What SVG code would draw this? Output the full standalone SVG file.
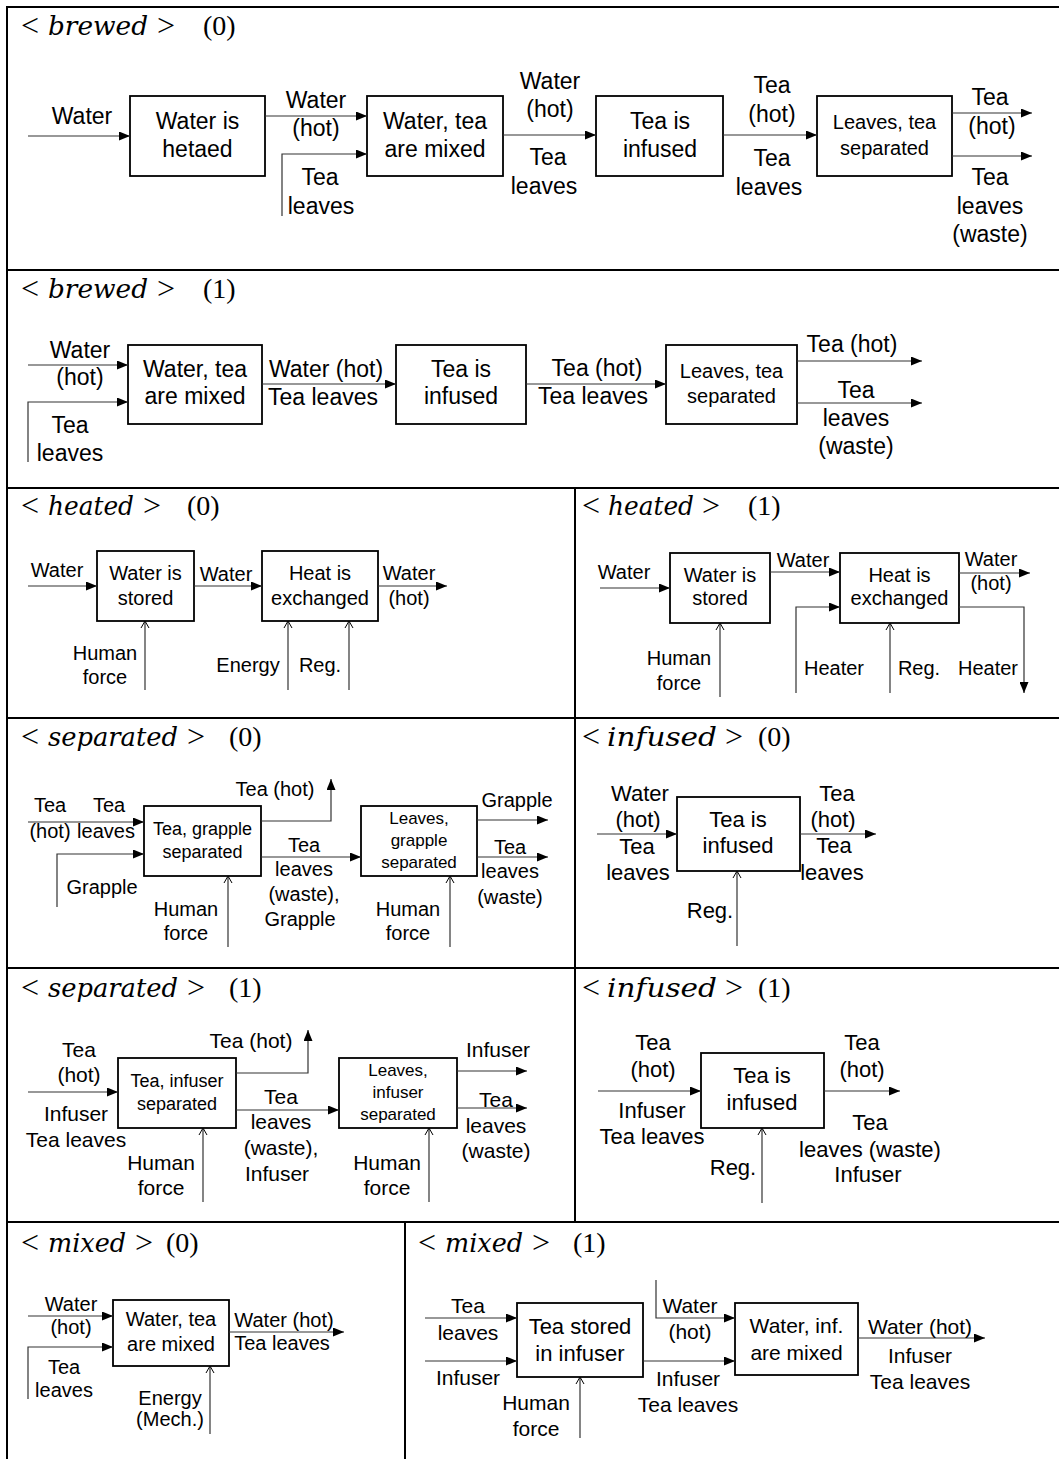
<svg xmlns="http://www.w3.org/2000/svg" width="1059" height="1459" viewBox="0 0 1059 1459">
<style>
text{font-family:"Liberation Sans",Arial,sans-serif;text-anchor:middle;fill:#000}
.s23{font-size:23px}.s22{font-size:22px}.s21{font-size:21px}.s20{font-size:20px}.s18{font-size:18px}.s17{font-size:17px}
.box{fill:#fff;stroke:#000;stroke-width:1.8}
.ln{fill:none;stroke:#333;stroke-width:1.2}
.ar{marker-end:url(#ah)}
.oc{marker-end:url(#oh)}
.grid{stroke:#000;stroke-width:2;fill:none}
text.t{font-family:"Liberation Serif","Times New Roman",serif;font-size:28px;text-anchor:start}
text.op{font-family:"Liberation Serif","Times New Roman",serif;font-size:32px;text-anchor:start}
text.ti{font-family:"DejaVu Serif","Liberation Serif",serif;font-style:italic;font-size:26px;text-anchor:start}
</style>
<defs>
<marker id="ah" viewBox="0 0 11 9" refX="11" refY="4.5" markerWidth="11" markerHeight="9" orient="auto" markerUnits="userSpaceOnUse"><path d="M0,0 L11,4.5 L0,9 z" fill="#000"/></marker>
<marker id="oh" viewBox="-1 -5 9 10" refX="7" refY="0" markerWidth="9" markerHeight="10" orient="auto" markerUnits="userSpaceOnUse"><path d="M0,-4 L7,0 L0,4" fill="none" stroke="#000" stroke-width="1"/></marker>
</defs>
<rect width="1059" height="1459" fill="#fff"/>
<g id="grid" class="grid">
<path d="M6,7 H1059 M7,7 V1459 M7,270 H1059 M7,488 H1059 M7,718 H1059 M7,968 H1059 M7,1222 H1059 M575,488 V1222 M405,1222 V1459"/>
</g>

<!-- brewed (0) -->
<g id="brewed0">
<g id="brewed0-title"><text class="op" x="21" y="36">&lt;</text><text class="ti" x="48" y="35" textLength="100" lengthAdjust="spacingAndGlyphs">brewed</text><text class="op" x="157" y="36">&gt;</text><text class="t" x="203" y="35">(0)</text></g>
<g id="b0-heated"><rect class="box" x="130" y="96" width="135" height="80"/><text class="s23" x="197.5" y="129">Water is</text><text class="s23" x="197.5" y="157">hetaed</text></g>
<g id="b0-mixed"><rect class="box" x="367" y="96" width="136" height="80"/><text class="s23" x="435" y="129">Water, tea</text><text class="s23" x="435" y="157">are mixed</text></g>
<g id="b0-infused"><rect class="box" x="596" y="96" width="127" height="80"/><text class="s23" x="660" y="129">Tea is</text><text class="s23" x="660" y="157">infused</text></g>
<g id="b0-separated"><rect class="box" x="817" y="96" width="135" height="80"/><text class="s20" x="884.5" y="129">Leaves, tea</text><text class="s20" x="884.5" y="155">separated</text></g>
<g id="b0-edges">
<path class="ln ar" d="M28,136 H130"/>
<path class="ln ar" d="M265,116 H367"/>
<path class="ln ar" d="M282,216 V154 H367"/>
<path class="ln ar" d="M503,135 H596"/>
<path class="ln ar" d="M723,135 H817"/>
<path class="ln ar" d="M952,113 H1032"/>
<path class="ln ar" d="M952,156 H1032"/>
<text class="s23" x="82" y="124">Water</text>
<text class="s23" x="316" y="108">Water</text><text class="s23" x="316" y="136">(hot)</text>
<text class="s23" x="320" y="185">Tea</text><text class="s23" x="321" y="214">leaves</text>
<text class="s23" x="550" y="89">Water</text><text class="s23" x="550" y="117">(hot)</text>
<text class="s23" x="548" y="165">Tea</text><text class="s23" x="544" y="194">leaves</text>
<text class="s23" x="772" y="93">Tea</text><text class="s23" x="772" y="122">(hot)</text>
<text class="s23" x="772" y="166">Tea</text><text class="s23" x="769" y="195">leaves</text>
<text class="s23" x="990" y="105">Tea</text><text class="s23" x="992" y="134">(hot)</text>
<text class="s23" x="990" y="185">Tea</text><text class="s23" x="990" y="214">leaves</text><text class="s23" x="990" y="242">(waste)</text>
</g>
</g>

<!-- brewed (1) -->
<g id="brewed1">
<g id="brewed1-title"><text class="op" x="21" y="299">&lt;</text><text class="ti" x="48" y="298" textLength="100" lengthAdjust="spacingAndGlyphs">brewed</text><text class="op" x="157" y="299">&gt;</text><text class="t" x="203" y="298">(1)</text></g>
<g id="b1-mixed"><rect class="box" x="128" y="345" width="134" height="79"/><text class="s23" x="195" y="377">Water, tea</text><text class="s23" x="195" y="404">are mixed</text></g>
<g id="b1-infused"><rect class="box" x="396" y="345" width="130" height="79"/><text class="s23" x="461" y="377">Tea is</text><text class="s23" x="461" y="404">infused</text></g>
<g id="b1-separated"><rect class="box" x="666" y="345" width="131" height="79"/><text class="s20" x="731.5" y="378">Leaves, tea</text><text class="s20" x="731.5" y="403">separated</text></g>
<g id="b1-edges">
<path class="ln ar" d="M28,365 H128"/>
<path class="ln ar" d="M28,462 V402 H128"/>
<path class="ln ar" d="M262,384 H396"/>
<path class="ln ar" d="M526,384 H666"/>
<path class="ln ar" d="M797,361 H922"/>
<path class="ln ar" d="M797,403 H922"/>
<text class="s23" x="80" y="358">Water</text><text class="s23" x="80" y="385">(hot)</text>
<text class="s23" x="70" y="433">Tea</text><text class="s23" x="70" y="461">leaves</text>
<text class="s23" x="326" y="377">Water (hot)</text><text class="s23" x="323" y="405">Tea leaves</text>
<text class="s23" x="597" y="376">Tea (hot)</text><text class="s23" x="593" y="404">Tea leaves</text>
<text class="s23" x="852" y="352">Tea (hot)</text>
<text class="s23" x="856" y="398">Tea</text><text class="s23" x="856" y="426">leaves</text><text class="s23" x="856" y="454">(waste)</text>
</g>
</g>

<!-- heated (0) -->
<g id="heated0">
<g id="heated0-title"><text class="op" x="21" y="516">&lt;</text><text class="ti" x="48" y="515" textLength="86" lengthAdjust="spacingAndGlyphs">heated</text><text class="op" x="143" y="516">&gt;</text><text class="t" x="187" y="515">(0)</text></g>
<g id="h0-stored"><rect class="box" x="97" y="551" width="97" height="70"/><text class="s20" x="145.5" y="580">Water is</text><text class="s20" x="145.5" y="605">stored</text></g>
<g id="h0-exchanged"><rect class="box" x="262" y="551" width="116" height="70"/><text class="s20" x="320" y="580">Heat is</text><text class="s20" x="320" y="605">exchanged</text></g>
<g id="h0-edges">
<path class="ln ar" d="M28,586 H97"/>
<path class="ln ar" d="M194,586 H262"/>
<path class="ln ar" d="M378,586 H447"/>
<path class="ln oc" d="M145,690 V621"/>
<path class="ln oc" d="M288,690 V621"/>
<path class="ln oc" d="M349,690 V621"/>
<text class="s20" x="57" y="577">Water</text>
<text class="s20" x="226" y="581">Water</text>
<text class="s20" x="409" y="580">Water</text><text class="s20" x="409" y="605">(hot)</text>
<text class="s20" x="105" y="660">Human</text><text class="s20" x="105" y="684">force</text>
<text class="s20" x="248" y="672">Energy</text>
<text class="s20" x="320" y="672">Reg.</text>
</g>
</g>

<!-- heated (1) -->
<g id="heated1">
<g id="heated1-title"><text class="op" x="582" y="516">&lt;</text><text class="ti" x="608" y="515" textLength="86" lengthAdjust="spacingAndGlyphs">heated</text><text class="op" x="702" y="516">&gt;</text><text class="t" x="748" y="515">(1)</text></g>
<g id="h1-stored"><rect class="box" x="670" y="553" width="100" height="70"/><text class="s20" x="720" y="582">Water is</text><text class="s20" x="720" y="605">stored</text></g>
<g id="h1-exchanged"><rect class="box" x="840" y="553" width="119" height="70"/><text class="s20" x="899.5" y="582">Heat is</text><text class="s20" x="899.5" y="605">exchanged</text></g>
<g id="h1-edges">
<path class="ln ar" d="M600,588 H670"/>
<path class="ln ar" d="M770,572 H840"/>
<path class="ln ar" d="M796,693 V607 H840"/>
<path class="ln ar" d="M959,573 H1030"/>
<path class="ln ar" d="M959,607 H1024 V693"/>
<path class="ln oc" d="M720,697 V623"/>
<path class="ln oc" d="M890,693 V623"/>
<text class="s20" x="624" y="579">Water</text>
<text class="s20" x="803" y="567">Water</text>
<text class="s20" x="991" y="566">Water</text><text class="s20" x="991" y="590">(hot)</text>
<text class="s20" x="834" y="675">Heater</text>
<text class="s20" x="919" y="675">Reg.</text>
<text class="s20" x="988" y="675">Heater</text>
<text class="s20" x="679" y="665">Human</text><text class="s20" x="679" y="690">force</text>
</g>
</g>

<!-- separated (0) -->
<g id="separated0">
<g id="separated0-title"><text class="op" x="21" y="747">&lt;</text><text class="ti" x="48" y="746" textLength="130" lengthAdjust="spacingAndGlyphs">separated</text><text class="op" x="187" y="747">&gt;</text><text class="t" x="229" y="746">(0)</text></g>
<g id="s0-tea"><rect class="box" x="144" y="806" width="117" height="70"/><text class="s18" x="202.5" y="835">Tea, grapple</text><text class="s18" x="202.5" y="858">separated</text></g>
<g id="s0-leaves"><rect class="box" x="361" y="806" width="116" height="70"/><text class="s17" x="419" y="824">Leaves,</text><text class="s17" x="419" y="846">grapple</text><text class="s17" x="419" y="868">separated</text></g>
<g id="s0-edges">
<path class="ln ar" d="M28,822 H144"/>
<path class="ln ar" d="M57,907 V854 H144"/>
<path class="ln ar" d="M261,821 H331 V779"/>
<path class="ln ar" d="M261,857 H361"/>
<path class="ln ar" d="M477,820 H548"/>
<path class="ln ar" d="M477,857 H548"/>
<path class="ln oc" d="M228,947 V876"/>
<path class="ln oc" d="M450,947 V876"/>
<text class="s20" x="50" y="812">Tea</text><text class="s20" x="109" y="812">Tea</text>
<text class="s20" x="50" y="838">(hot)</text><text class="s20" x="106" y="838">leaves</text>
<text class="s20" x="102" y="894">Grapple</text>
<text class="s20" x="275" y="796">Tea (hot)</text>
<text class="s20" x="304" y="852">Tea</text><text class="s20" x="304" y="876">leaves</text><text class="s20" x="304" y="901">(waste),</text><text class="s20" x="300" y="926">Grapple</text>
<text class="s20" x="517" y="807">Grapple</text>
<text class="s20" x="510" y="854">Tea</text><text class="s20" x="510" y="878">leaves</text><text class="s20" x="510" y="904">(waste)</text>
<text class="s20" x="186" y="916">Human</text><text class="s20" x="186" y="940">force</text>
<text class="s20" x="408" y="916">Human</text><text class="s20" x="408" y="940">force</text>
</g>
</g>

<!-- infused (0) -->
<g id="infused0">
<g id="infused0-title"><text class="op" x="582" y="747">&lt;</text><text class="ti" x="607" y="746" textLength="110" lengthAdjust="spacingAndGlyphs">infused</text><text class="op" x="725" y="747">&gt;</text><text class="t" x="758" y="746">(0)</text></g>
<g id="i0-infused"><rect class="box" x="677" y="797" width="123" height="74"/><text class="s22" x="738" y="827">Tea is</text><text class="s22" x="738" y="853">infused</text></g>
<g id="i0-edges">
<path class="ln ar" d="M597,834 H677"/>
<path class="ln ar" d="M800,834 H876"/>
<path class="ln oc" d="M737,946 V871"/>
<text class="s22" x="640" y="801">Water</text><text class="s22" x="638" y="827">(hot)</text>
<text class="s22" x="637" y="854">Tea</text><text class="s22" x="638" y="880">leaves</text>
<text class="s22" x="837" y="801">Tea</text><text class="s22" x="833" y="827">(hot)</text>
<text class="s22" x="834" y="853">Tea</text><text class="s22" x="832" y="880">leaves</text>
<text class="s22" x="710" y="918">Reg.</text>
</g>
</g>

<!-- separated (1) -->
<g id="separated1">
<g id="separated1-title"><text class="op" x="21" y="998">&lt;</text><text class="ti" x="48" y="997" textLength="130" lengthAdjust="spacingAndGlyphs">separated</text><text class="op" x="187" y="998">&gt;</text><text class="t" x="229" y="997">(1)</text></g>
<g id="s1-tea"><rect class="box" x="118" y="1058" width="118" height="70"/><text class="s18" x="177" y="1087">Tea, infuser</text><text class="s18" x="177" y="1110">separated</text></g>
<g id="s1-leaves"><rect class="box" x="339" y="1058" width="118" height="70"/><text class="s17" x="398" y="1076">Leaves,</text><text class="s17" x="398" y="1098">infuser</text><text class="s17" x="398" y="1120">separated</text></g>
<g id="s1-edges">
<path class="ln ar" d="M28,1092 H118"/>
<path class="ln ar" d="M236,1073 H308 V1030"/>
<path class="ln ar" d="M236,1110 H339"/>
<path class="ln ar" d="M457,1071 H527"/>
<path class="ln ar" d="M457,1108 H527"/>
<path class="ln oc" d="M203,1202 V1128"/>
<path class="ln oc" d="M429,1202 V1128"/>
<text class="s21" x="79" y="1057">Tea</text><text class="s21" x="79" y="1082">(hot)</text>
<text class="s21" x="76" y="1121">Infuser</text><text class="s21" x="76" y="1147">Tea leaves</text>
<text class="s21" x="251" y="1048">Tea (hot)</text>
<text class="s21" x="281" y="1104">Tea</text><text class="s21" x="281" y="1129">leaves</text><text class="s21" x="281" y="1155">(waste),</text><text class="s21" x="277" y="1181">Infuser</text>
<text class="s21" x="498" y="1057">Infuser</text>
<text class="s21" x="496" y="1107">Tea</text><text class="s21" x="496" y="1133">leaves</text><text class="s21" x="496" y="1158">(waste)</text>
<text class="s21" x="161" y="1170">Human</text><text class="s21" x="161" y="1195">force</text>
<text class="s21" x="387" y="1170">Human</text><text class="s21" x="387" y="1195">force</text>
</g>
</g>

<!-- infused (1) -->
<g id="infused1">
<g id="infused1-title"><text class="op" x="582" y="998">&lt;</text><text class="ti" x="607" y="997" textLength="110" lengthAdjust="spacingAndGlyphs">infused</text><text class="op" x="725" y="998">&gt;</text><text class="t" x="758" y="997">(1)</text></g>
<g id="i1-infused"><rect class="box" x="701" y="1053" width="123" height="75"/><text class="s22" x="762" y="1083">Tea is</text><text class="s22" x="762" y="1110">infused</text></g>
<g id="i1-edges">
<path class="ln ar" d="M598,1091 H701"/>
<path class="ln ar" d="M824,1091 H900"/>
<path class="ln oc" d="M762,1203 V1128"/>
<text class="s22" x="653" y="1050">Tea</text><text class="s22" x="653" y="1077">(hot)</text>
<text class="s22" x="652" y="1118">Infuser</text><text class="s22" x="652" y="1144">Tea leaves</text>
<text class="s22" x="862" y="1050">Tea</text><text class="s22" x="862" y="1077">(hot)</text>
<text class="s22" x="870" y="1130">Tea</text><text class="s22" x="870" y="1157">leaves (waste)</text><text class="s22" x="868" y="1182">Infuser</text>
<text class="s22" x="733" y="1175">Reg.</text>
</g>
</g>

<!-- mixed (0) -->
<g id="mixed0">
<g id="mixed0-title"><text class="op" x="21" y="1253">&lt;</text><text class="ti" x="48" y="1252" textLength="78" lengthAdjust="spacingAndGlyphs">mixed</text><text class="op" x="135" y="1253">&gt;</text><text class="t" x="166" y="1252">(0)</text></g>
<g id="m0-mixed"><rect class="box" x="113" y="1300" width="116" height="66"/><text class="s20" x="171" y="1326">Water, tea</text><text class="s20" x="171" y="1351">are mixed</text></g>
<g id="m0-edges">
<path class="ln ar" d="M28,1316 H113"/>
<path class="ln ar" d="M28,1399 V1347 H113"/>
<path class="ln ar" d="M229,1332 H344"/>
<path class="ln oc" d="M210,1434 V1366"/>
<text class="s20" x="71" y="1311">Water</text><text class="s20" x="71" y="1334">(hot)</text>
<text class="s20" x="64" y="1374">Tea</text><text class="s20" x="64" y="1397">leaves</text>
<text class="s20" x="284" y="1327">Water (hot)</text><text class="s20" x="282" y="1350">Tea leaves</text>
<text class="s20" x="170" y="1405">Energy</text><text class="s20" x="170" y="1426">(Mech.)</text>
</g>
</g>

<!-- mixed (1) -->
<g id="mixed1">
<g id="mixed1-title"><text class="op" x="418" y="1253">&lt;</text><text class="ti" x="445" y="1252" textLength="78" lengthAdjust="spacingAndGlyphs">mixed</text><text class="op" x="532" y="1253">&gt;</text><text class="t" x="573" y="1252">(1)</text></g>
<g id="m1-stored"><rect class="box" x="517" y="1303" width="126" height="74"/><text class="s22" x="580" y="1334">Tea stored</text><text class="s22" x="580" y="1361">in infuser</text></g>
<g id="m1-mixed"><rect class="box" x="735" y="1303" width="123" height="72"/><text class="s21" x="796.5" y="1333">Water, inf.</text><text class="s21" x="796.5" y="1360">are mixed</text></g>
<g id="m1-edges">
<path class="ln ar" d="M425,1318 H517"/>
<path class="ln ar" d="M425,1361 H517"/>
<path class="ln ar" d="M656,1280 V1318 H735"/>
<path class="ln ar" d="M643,1361 H735"/>
<path class="ln ar" d="M858,1338 H985"/>
<path class="ln oc" d="M580,1438 V1377"/>
<text class="s21" x="468" y="1313">Tea</text><text class="s21" x="468" y="1340">leaves</text>
<text class="s21" x="468" y="1385">Infuser</text>
<text class="s21" x="690" y="1313">Water</text><text class="s21" x="690" y="1339">(hot)</text>
<text class="s21" x="688" y="1386">Infuser</text><text class="s21" x="688" y="1412">Tea leaves</text>
<text class="s21" x="536" y="1410">Human</text><text class="s21" x="536" y="1436">force</text>
<text class="s21" x="920" y="1334">Water (hot)</text><text class="s21" x="920" y="1363">Infuser</text><text class="s21" x="920" y="1389">Tea leaves</text>
</g>
</g>
</svg>
